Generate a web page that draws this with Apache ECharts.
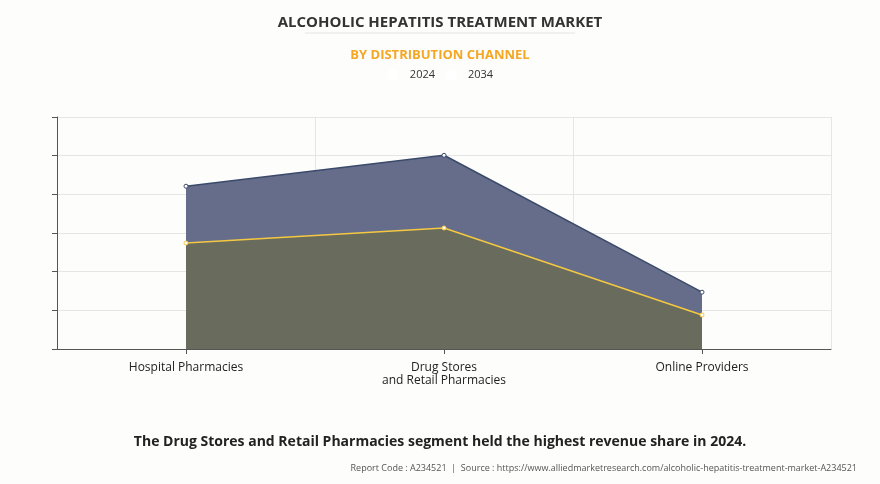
<!DOCTYPE html>
<html><head><meta charset="utf-8">
<script src="https://cdn.jsdelivr.net/npm/echarts@6/dist/echarts.min.js"></script>
<style>html,body{margin:0;padding:0;background:#fdfdfb}#c{width:880px;height:484px}</style>
</head><body><div id="c"></div>
<script>
const categories = ['Hospital Pharmacies', 'Drug Stores\nand Retail Pharmacies', 'Online Providers'];
const values2024 = [2.74, 3.13, 0.88];
const values2034 = [4.21, 5.01, 1.47];
const chart = echarts.init(document.getElementById('c'));
chart.setOption({
  backgroundColor: '#fdfdfb',
  title: [
    {text: 'ALCOHOLIC HEPATITIS TREATMENT MARKET', left: 'center', top: 10,
     textStyle: {fontFamily: 'Open Sans', fontSize: 15, fontWeight: 'bold', color: '#333'}},
    {text: 'BY DISTRIBUTION CHANNEL', left: 'center', top: 44,
     textStyle: {fontFamily: 'Open Sans', fontSize: 13, fontWeight: 'bold', color: '#f5a623'}},
    {text: 'The Drug Stores and Retail Pharmacies segment held the highest revenue share in 2024.', left: 'center', top: 430,
     textStyle: {fontFamily: 'Open Sans', fontSize: 14, fontWeight: 'bold', color: '#222'}},
    {text: 'Report Code : A234521  |  Source : https://www.alliedmarketresearch.com/alcoholic-hepatitis-treatment-market-A234521', right: 18, top: 459,
     textStyle: {fontFamily: 'Open Sans', fontSize: 9, fontWeight: 'normal', color: '#555'}}
  ],
  graphic: [{type: 'line', shape: {x1: 305, y1: 33, x2: 575, y2: 33}, style: {stroke: '#e5e5e5', lineWidth: 1}}],
  legend: {top: 64, left: 'center', itemWidth: 24, itemHeight: 10, itemGap: 10,
    textStyle: {fontFamily: 'Open Sans', fontSize: 11, color: '#333'},
    data: [{name: '2024', icon: 'emptyCircle'}, {name: '2034', icon: 'emptyCircle'}]},
  grid: {left: 57, right: 49, top: 117, bottom: 135},
  xAxis: {type: 'category', data: categories, boundaryGap: true,
    axisLine: {lineStyle: {color: '#555'}}, axisTick: {show: true, alignWithLabel: true, lineStyle: {color: '#555'}},
    splitLine: {show: true, lineStyle: {color: '#e6e6e6'}},
    axisLabel: {fontFamily: 'Open Sans', fontSize: 12, color: '#222', margin: 12, lineHeight: 13}},
  yAxis: {type: 'value', min: 0, max: 6, interval: 1,
    axisLine: {show: true, lineStyle: {color: '#555'}}, axisTick: {show: true, lineStyle: {color: '#555'}},
    axisLabel: {show: false}, splitLine: {lineStyle: {color: '#e6e6e6'}}},
  series: [
    {name: '2034', type: 'line', data: values2034, symbol: 'circle', symbolSize: 4,
     itemStyle: {color: '#fff', borderColor: '#3b4a6b', borderWidth: 1},
     lineStyle: {color: '#3b4a6b', width: 1.5}, areaStyle: {color: '#656d8a', opacity: 1}, z: 2},
    {name: '2024', type: 'line', data: values2024, symbol: 'circle', symbolSize: 4,
     itemStyle: {color: '#fff', borderColor: '#f5c842', borderWidth: 1},
     lineStyle: {color: '#f5c842', width: 1.5}, areaStyle: {color: '#696b5d', opacity: 1}, z: 3}
  ]
});
</script></body></html>
